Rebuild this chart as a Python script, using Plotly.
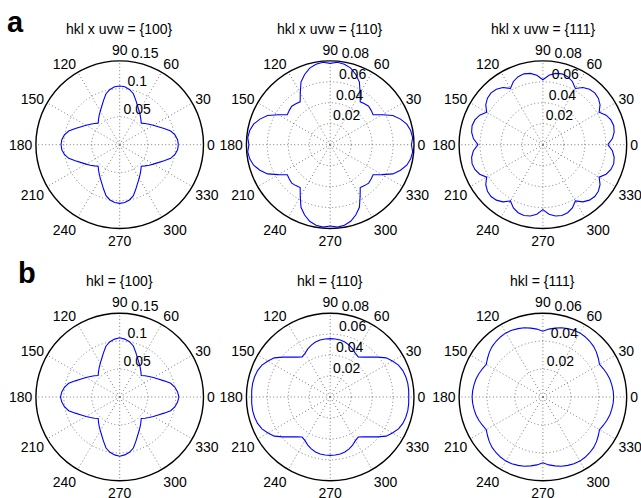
import plotly.graph_objects as go

# ---------------- data ----------------
THETA = [0, 5, 10, 15, 20, 25, 30, 35, 40, 45, 50, 55, 60, 65, 70, 75, 80, 85,
         90, 95, 100, 105, 110, 115, 120, 125, 130, 135, 140, 145, 150, 155, 160, 165, 170, 175,
         180, 185, 190, 195, 200, 205, 210, 215, 220, 225, 230, 235, 240, 245, 250, 255, 260, 265,
         270, 275, 280, 285, 290, 295, 300, 305, 310, 315, 320, 325, 330, 335, 340, 345, 350, 355, 360]

ANG_TICKS = [0, 30, 60, 90, 120, 150, 180, 210, 240, 270, 300, 330]
ANG_LABELS = ["0", "30", "60", "90", "120", "150", "180", "210", "240", "270", "300", "330"]

TITLES = ["hkl x uvw = {100}", "hkl x uvw = {110}", "hkl x uvw = {111}",
          "hkl = {100}", "hkl = {110}", "hkl = {111}"]
PANEL_LETTERS = ["a", "b"]

RMAX = [0.15, 0.08, 0.08, 0.15, 0.08, 0.06]
RTICKS = [[0.05, 0.1, 0.15], [0.02, 0.04, 0.06, 0.08], [0.02, 0.04, 0.06, 0.08],
          [0.05, 0.1, 0.15], [0.02, 0.04, 0.06, 0.08], [0.02, 0.04, 0.06]]
RTICK_LABELS = [["0.05", "0.1", "0.15"], ["0.02", "0.04", "0.06", "0.08"],
                ["0.02", "0.04", "0.06", "0.08"], ["0.05", "0.1", "0.15"],
                ["0.02", "0.04", "0.06", "0.08"], ["0.02", "0.04", "0.06"]]

A_100 = [0.105, 0.104, 0.1005, 0.0945, 0.0845, 0.076, 0.0695, 0.064, 0.059, 0.0545, 0.059, 0.064, 0.0695, 0.076, 0.0845, 0.0945, 0.1005, 0.104,
         0.105, 0.104, 0.1005, 0.0945, 0.0845, 0.076, 0.0695, 0.064, 0.059, 0.0545, 0.059, 0.064, 0.0695, 0.076, 0.0845, 0.0945, 0.1005, 0.104,
         0.105, 0.104, 0.1005, 0.0945, 0.0845, 0.076, 0.0695, 0.064, 0.059, 0.0545, 0.059, 0.064, 0.0695, 0.076, 0.0845, 0.0945, 0.1005, 0.104,
         0.105, 0.104, 0.1005, 0.0945, 0.0845, 0.076, 0.0695, 0.064, 0.059, 0.0545, 0.059, 0.064, 0.0695, 0.076, 0.0845, 0.0945, 0.1005, 0.104,
         0.105]

A_110 = [0.0776, 0.0790, 0.0780, 0.0757, 0.0714, 0.0660, 0.0571, 0.0500, 0.0510, 0.0519, 0.0510, 0.0500, 0.0571, 0.0660, 0.0714, 0.0757, 0.0780, 0.0790,
         0.0776, 0.0790, 0.0780, 0.0757, 0.0714, 0.0660, 0.0571, 0.0500, 0.0510, 0.0519, 0.0510, 0.0500, 0.0571, 0.0660, 0.0714, 0.0757, 0.0780, 0.0790,
         0.0776, 0.0790, 0.0780, 0.0757, 0.0714, 0.0660, 0.0571, 0.0500, 0.0510, 0.0519, 0.0510, 0.0500, 0.0571, 0.0660, 0.0714, 0.0757, 0.0780, 0.0790,
         0.0776, 0.0790, 0.0780, 0.0757, 0.0714, 0.0660, 0.0571, 0.0500, 0.0510, 0.0519, 0.0510, 0.0500, 0.0571, 0.0660, 0.0714, 0.0757, 0.0780, 0.0790,
         0.0776]

A_111 = [0.0620, 0.0666, 0.0691, 0.0700, 0.0691, 0.0666, 0.0620, 0.0666, 0.0691, 0.0700, 0.0691, 0.0666,
         0.0620, 0.0666, 0.0691, 0.0700, 0.0691, 0.0666, 0.0620, 0.0666, 0.0691, 0.0700, 0.0691, 0.0666,
         0.0620, 0.0666, 0.0691, 0.0700, 0.0691, 0.0666, 0.0620, 0.0666, 0.0691, 0.0700, 0.0691, 0.0666,
         0.0620, 0.0666, 0.0691, 0.0700, 0.0691, 0.0666, 0.0620, 0.0666, 0.0691, 0.0700, 0.0691, 0.0666,
         0.0620, 0.0666, 0.0691, 0.0700, 0.0691, 0.0666, 0.0620, 0.0666, 0.0691, 0.0700, 0.0691, 0.0666,
         0.0620, 0.0666, 0.0691, 0.0700, 0.0691, 0.0666, 0.0620, 0.0666, 0.0691, 0.0700, 0.0691, 0.0666,
         0.0620]

B_100 = [0.106, 0.104, 0.1005, 0.0945, 0.0845, 0.076, 0.0695, 0.064, 0.059, 0.0545, 0.059, 0.064, 0.0695, 0.076, 0.0845, 0.0945, 0.1005, 0.104,
         0.106, 0.104, 0.1005, 0.0945, 0.0845, 0.076, 0.0695, 0.064, 0.059, 0.0545, 0.059, 0.064, 0.0695, 0.076, 0.0845, 0.0945, 0.1005, 0.104,
         0.106, 0.104, 0.1005, 0.0945, 0.0845, 0.076, 0.0695, 0.064, 0.059, 0.0545, 0.059, 0.064, 0.0695, 0.076, 0.0845, 0.0945, 0.1005, 0.104,
         0.106, 0.104, 0.1005, 0.0945, 0.0845, 0.076, 0.0695, 0.064, 0.059, 0.0545, 0.059, 0.064, 0.0695, 0.076, 0.0845, 0.0945, 0.1005, 0.104,
         0.106]

B_110 = [0.0750, 0.0752, 0.0752, 0.0747, 0.0738, 0.0719, 0.0686, 0.0652, 0.0592, 0.0539, 0.0497, 0.0467, 0.0481, 0.0506, 0.0527, 0.0543, 0.0552, 0.0556,
         0.0557, 0.0556, 0.0552, 0.0543, 0.0527, 0.0506, 0.0481, 0.0467, 0.0497, 0.0539, 0.0592, 0.0652, 0.0686, 0.0719, 0.0738, 0.0747, 0.0752, 0.0752,
         0.0750, 0.0752, 0.0752, 0.0747, 0.0738, 0.0719, 0.0686, 0.0652, 0.0592, 0.0539, 0.0497, 0.0467, 0.0481, 0.0506, 0.0527, 0.0543, 0.0552, 0.0556,
         0.0557, 0.0556, 0.0552, 0.0543, 0.0527, 0.0506, 0.0481, 0.0467, 0.0497, 0.0539, 0.0592, 0.0652, 0.0686, 0.0719, 0.0738, 0.0747, 0.0752, 0.0752,
         0.0750]

B_111 = [0.0507, 0.0505, 0.0501, 0.0496, 0.0488, 0.0478, 0.0468, 0.0484, 0.0500, 0.0513, 0.0521, 0.0527, 0.0530, 0.0527, 0.0521, 0.0513, 0.0501, 0.0488,
         0.0471, 0.0488, 0.0501, 0.0513, 0.0521, 0.0527, 0.0530, 0.0527, 0.0521, 0.0513, 0.0500, 0.0484, 0.0468, 0.0478, 0.0488, 0.0496, 0.0501, 0.0505,
         0.0507, 0.0505, 0.0501, 0.0496, 0.0488, 0.0478, 0.0468, 0.0484, 0.0500, 0.0513, 0.0521, 0.0527, 0.0530, 0.0527, 0.0521, 0.0513, 0.0501, 0.0488,
         0.0471, 0.0488, 0.0501, 0.0513, 0.0521, 0.0527, 0.0530, 0.0527, 0.0521, 0.0513, 0.0500, 0.0484, 0.0468, 0.0478, 0.0488, 0.0496, 0.0501, 0.0505,
         0.0507]

SERIES = [A_100, A_110, A_111, B_100, B_110, B_111]

# ---------------- layout geometry (pixels) ----------------
W, H = 641, 498
CX = [119.7, 330.2, 542.9]
CY = [144.7, 397.0]
R = 83.8
FONT = "Liberation Sans, Arial, sans-serif"
GRID = "#7a7a7a"

fig = go.Figure()
layout = dict(width=W, height=H, margin=dict(l=0, r=0, t=0, b=0),
              paper_bgcolor="white", plot_bgcolor="white", showlegend=False,
              font=dict(family=FONT, size=14, color="black"))
annotations = []

for i in range(6):
    row, col = divmod(i, 3)
    cx, cy = CX[col], CY[row]
    name = "polar" if i == 0 else f"polar{i+1}"
    sub = "polar" if i == 0 else f"polar{i+1}"
    layout[name] = dict(
        domain=dict(x=[(cx - R) / W, (cx + R) / W], y=[1 - (cy + R) / H, 1 - (cy - R) / H]),
        bgcolor="white",
        angularaxis=dict(direction="counterclockwise", rotation=0, tickmode="array",
                         tickvals=ANG_TICKS, ticktext=ANG_LABELS, ticks="",
                         showline=True, linecolor="black", linewidth=1.4,
                         showgrid=True, gridcolor=GRID, griddash="1px,2.5px", gridwidth=1,
                         tickfont=dict(size=14, color="black", family=FONT)),
        radialaxis=dict(range=[0, RMAX[i]], tickmode="array",
                        tickvals=RTICKS[i][:-1] if RTICKS[i][-1] >= RMAX[i] else RTICKS[i],
                        showticklabels=False, ticks="", showline=False,
                        showgrid=True, gridcolor=GRID, griddash="1px,2.5px", gridwidth=1),
    )
    fig.add_trace(go.Scatterpolar(r=SERIES[i], theta=THETA, mode="lines",
                                  line=dict(color="#0000ff", width=1.1),
                                  subplot=sub, hoverinfo="skip"))
    fig.add_trace(go.Scatterpolar(r=RTICKS[i], theta=[82] * len(RTICKS[i]), mode="text",
                                  text=RTICK_LABELS[i], textposition="top right",
                                  textfont=dict(size=14, color="black", family=FONT),
                                  cliponaxis=False, subplot=sub, hoverinfo="skip"))
    ty = 29 if row == 0 else 281
    annotations.append(dict(text=TITLES[i], x=cx / W, y=1 - ty / H, xref="paper", yref="paper",
                            xanchor="center", yanchor="middle", showarrow=False,
                            font=dict(size=14, color="black", family=FONT)))

annotations.append(dict(text="<b>a</b>", x=15 / W, y=1 - 22 / H, xref="paper", yref="paper",
                        xanchor="center", yanchor="middle", showarrow=False,
                        font=dict(size=29, color="black", family=FONT)))
annotations.append(dict(text="<b>b</b>", x=27 / W, y=1 - 273 / H, xref="paper", yref="paper",
                        xanchor="center", yanchor="middle", showarrow=False,
                        font=dict(size=29, color="black", family=FONT)))
layout["annotations"] = annotations
fig.update_layout(**layout)
fig.write_html("out.html", config={"displayModeBar": False},
               post_script="document.body.style.margin='0';document.body.style.padding='0';")
